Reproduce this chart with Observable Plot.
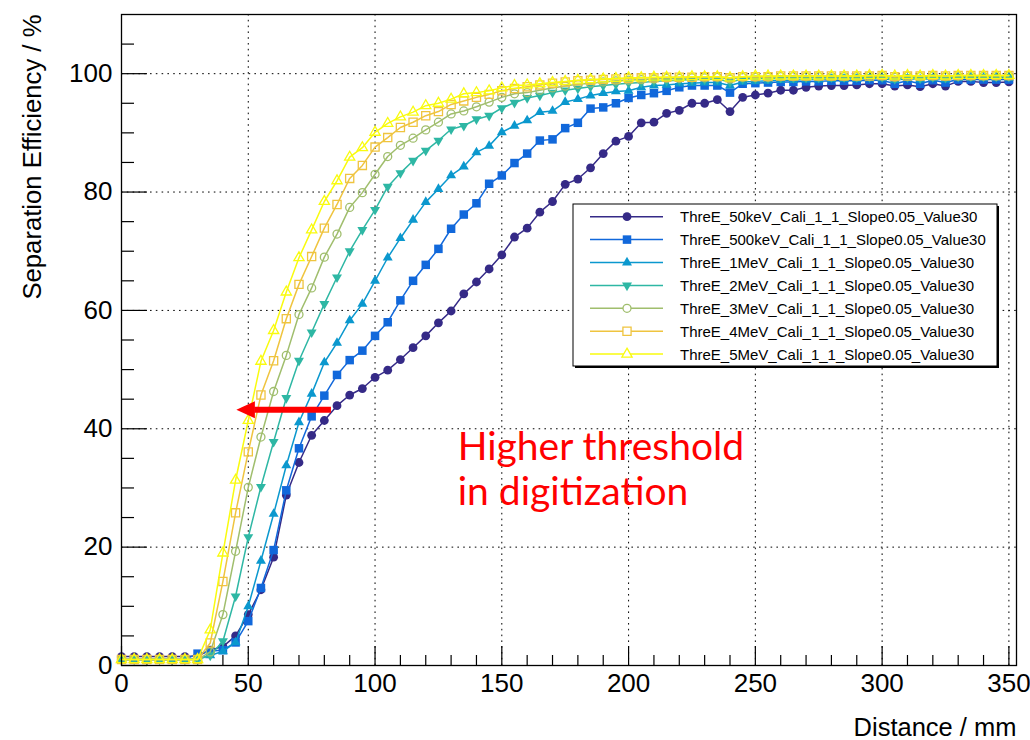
<!DOCTYPE html>
<html>
<head>
<meta charset="utf-8">
<script src="https://cdn.jsdelivr.net/npm/d3@7"></script>
<script src="https://cdn.jsdelivr.net/npm/@observablehq/plot@0.6"></script>
<style>
  body { margin: 0; background: #fff; }
  #chart { position: relative; width: 1030px; height: 740px; }
</style>
</head>
<body>
<div id="chart"></div>
<script>
// ---------------- data ----------------
const distance = [0,5,10,15,20,25,30,35,40,45,50,55,60,65,70,75,80,85,90,95,100,105,110,115,120,125,130,135,140,145,150,155,160,165,170,175,180,185,190,195,200,205,210,215,220,225,230,235,240,245,250,255,260,265,270,275,280,285,290,295,300,305,310,315,320,325,330,335,340,345,350];

const seriesNames = [
  "ThreE_50keV_Cali_1_1_Slope0.05_Value30",
  "ThreE_500keV_Cali_1_1_Slope0.05_Value30",
  "ThreE_1MeV_Cali_1_1_Slope0.05_Value30",
  "ThreE_2MeV_Cali_1_1_Slope0.05_Value30",
  "ThreE_3MeV_Cali_1_1_Slope0.05_Value30",
  "ThreE_4MeV_Cali_1_1_Slope0.05_Value30",
  "ThreE_5MeV_Cali_1_1_Slope0.05_Value30"
];

const eff50keV = [1.5,1.5,1.5,1.5,1.5,1.5,1.6,2.6,3.2,5.0, 8.6,12.8,18.3,28.8,34.3,38.9,41.4,43.9,45.7,46.8, 48.7,49.9,51.7,53.7,55.7,57.9,59.9,62.8,64.8,67.0, 69.4,72.4,73.9,76.6,78.4,81.3,82.2,84.1,86.5,88.6, 89.4,91.7,91.8,93.3,93.8,95.0,95.0,95.6,93.6,96.0, 96.4,96.7,97.2,97.2,97.7,97.9,98.0,98.0,98.1,98.3, 98.3,97.9,98.1,97.8,98.3,97.9,98.7,98.7,98.5,98.5, 98.6];
const eff500keV = [1.0,1.0,1.0,1.0,1.0,1.0,2.0,2.4,2.6,3.9, 7.5,13.1,19.5,29.6,36.7,42.1,45.6,49.1,51.6,53.2, 55.7,58.0,61.7,65.0,67.7,70.4,73.8,76.2,78.1,81.4, 82.8,84.9,86.5,88.7,88.9,90.8,91.7,94.1,94.3,95.0, 95.9,96.4,96.7,97.1,97.7,98.0,98.0,98.0,96.8,98.3, 98.4,98.5,98.6,98.6,98.7,98.7,98.8,98.8,98.8,98.9, 98.9,98.3,98.8,98.3,98.9,98.5,99.0,99.0,99.0,99.0, 99.0];
const eff1MeV = [1.0,1.0,1.0,1.0,1.0,1.0,1.2,1.7,2.4,3.9, 10.0,17.7,25.6,33.8,41.1,45.9,51.2,54.5,58.3,61.1, 65.0,68.9,72.2,75.3,78.3,80.5,82.8,84.3,86.7,87.8, 90.1,91.2,92.1,93.5,93.7,95.2,95.7,96.3,96.7,97.0, 97.1,97.7,98.0,98.1,98.3,98.4,98.5,98.5,98.0,98.6, 98.7,98.8,98.9,98.9,99.0,99.0,99.1,99.1,99.1,99.2, 99.2,98.9,99.2,99.0,99.2,99.0,99.3,99.3,99.3,99.3, 99.3];
const eff2MeV = [1.0,1.0,1.0,1.0,1.0,1.0,1.0,1.7,4.1,11.7, 21.7,30.2,37.8,45.2,51.5,56.3,61.1,65.6,70.0,73.6, 77.0,80.9,83.2,85.3,87.0,88.7,90.6,91.2,92.3,92.9, 94.2,95.1,95.9,96.3,96.8,97.2,97.5,97.8,98.0,98.2, 98.4,98.5,98.7,98.8,98.9,99.0,99.0,99.1,98.6,99.1, 99.2,99.2,99.3,99.3,99.3,99.3,99.4,99.4,99.4,99.4, 99.4,99.1,99.4,99.2,99.4,99.3,99.5,99.5,99.5,99.5, 99.5];
const eff3MeV = [1.0,1.0,1.0,1.0,1.0,1.0,1.0,2.3,8.6,19.3, 30.1,38.6,46.3,52.4,59.3,63.8,69.0,72.9,77.4,79.9, 83.0,86.0,87.9,89.1,90.5,91.8,93.2,93.7,94.4,95.2, 96.0,96.6,96.8,97.2,97.6,97.9,98.2,98.4,98.6,98.8, 98.9,99.0,99.1,99.2,99.2,99.3,99.3,99.4,99.1,99.4, 99.4,99.4,99.5,99.5,99.5,99.5,99.5,99.5,99.5,99.6, 99.6,99.4,99.6,99.5,99.6,99.5,99.6,99.6,99.6,99.6, 99.6];
const eff4MeV = [1.0,1.0,1.0,1.0,1.0,1.0,1.0,3.8,14.2,25.8, 36.1,45.7,51.5,58.6,64.4,69.1,73.9,77.9,82.3,84.5, 87.6,89.2,90.9,91.8,92.9,93.6,94.8,95.4,96.0,96.5, 97.1,97.5,97.8,98.1,98.4,98.6,98.8,98.9,99.0,99.1, 99.2,99.3,99.3,99.4,99.4,99.4,99.5,99.5,99.3,99.5, 99.5,99.5,99.6,99.6,99.6,99.6,99.6,99.6,99.6,99.6, 99.7,99.5,99.6,99.6,99.7,99.6,99.7,99.7,99.7,99.7, 99.7];
const eff5MeV = [1.0,1.0,1.0,1.0,1.0,1.0,1.0,6.0,19.0,31.3, 41.4,51.4,56.6,63.1,68.9,73.6,78.4,81.9,85.9,87.5, 90.1,91.6,92.7,93.5,94.6,95.0,95.7,96.6,96.8,97.1, 97.6,98.0,98.1,98.3,98.5,98.7,98.9,99.0,99.1,99.2, 99.3,99.3,99.4,99.4,99.4,99.5,99.5,99.5,99.3,99.5, 99.6,99.6,99.6,99.6,99.6,99.6,99.6,99.6,99.6,99.7, 99.7,99.6,99.7,99.6,99.7,99.6,99.7,99.7,99.7,99.7, 99.7];

const seriesValues = [eff50keV, eff500keV, eff1MeV, eff2MeV, eff3MeV, eff4MeV, eff5MeV];

const xMajorTicks = [0,50,100,150,200,250,300,350];
const xMinorTicks = [10,20,30,40,60,70,80,90,110,120,130,140,160,170,180,190,210,220,230,240,260,270,280,290,310,320,330,340];
const yMajorTicks = [0,20,40,60,80,100];
const yMinorTicks = [5,10,15,25,30,35,45,50,55,65,70,75,85,90,95,105];

const xTitle = "Distance / mm";
const yTitle = "Separation Efficiency / %";

// annotation (arrow + note)
const arrowTailX = [82.6];
const arrowHeadBaseX = [52.4];
const arrowTipX = [45.3];
const arrowY = [43.2];
const noteText = ["Higher threshold\nin digitization"];
const noteX = [132.6];
const noteY = [40.1];

// ---------------- style ----------------
const seriesColors = ["#352a87", "#1168db", "#0b98ce", "#2eb7a4", "#a0be6d", "#efc43f", "#f9fb0e"];

const triangleDown = {
  draw(ctx, size) {
    const y = -Math.sqrt(size / (Math.sqrt(3) * 3));
    const s3 = Math.sqrt(3);
    ctx.moveTo(0, -y * 2);
    ctx.lineTo(-s3 * y, y);
    ctx.lineTo(s3 * y, y);
    ctx.closePath();
  }
};
const arrowHead = {
  draw(ctx, size) {
    ctx.moveTo(0, 0);
    ctx.lineTo(18.5, -8.5);
    ctx.lineTo(18.5, 8.5);
    ctx.closePath();
  }
};
const markerStyles = [
  {symbol: "circle", r: 4.4, filled: true},
  {symbol: "square", r: 4.8, filled: true},
  {symbol: "triangle", r: 3.7, filled: true},
  {symbol: triangleDown, r: 3.7, filled: true},
  {symbol: "circle", r: 4.0, filled: false},
  {symbol: "square", r: 4.6, filled: false},
  {symbol: "triangle", r: 3.8, filled: false}
];

const W = 1030, H = 740;
const mL = 121, mR = 14, mT = 14, mB = 75;
const frameW = W - mL - mR, frameH = H - mT - mB;

const gridStyle = {stroke: "#000", strokeOpacity: 1, strokeWidth: 1, strokeDasharray: "1.6,4.2"};

const seriesMarks = seriesValues.flatMap((vals, s) => {
  const data = distance.map((d, i) => ({d, v: vals[i]}));
  const m = markerStyles[s];
  const c = seriesColors[s];
  return [
    Plot.line(data, {x: "d", y: "v", stroke: c, strokeWidth: 1.5}),
    Plot.dot(data, {
      x: "d", y: "v", symbol: m.symbol, r: m.r,
      fill: m.filled ? c : "none",
      stroke: m.filled ? "none" : c,
      strokeWidth: m.filled ? 0 : 1.3
    })
  ];
});

const chart = Plot.plot({
  width: W, height: H,
  marginLeft: mL, marginRight: mR, marginTop: mT, marginBottom: mB,
  style: {fontFamily: "'Liberation Sans', Arial, sans-serif", background: "#fff", overflow: "visible"},
  x: {domain: [0, 353]},
  y: {domain: [0, 110]},
  marks: [
    Plot.gridX(xMajorTicks.filter(d => d > 0), gridStyle),
    Plot.gridY(yMajorTicks.filter(d => d > 0), gridStyle),
    Plot.tickX(xMajorTicks, {x: d => d, stroke: "#000", strokeWidth: 1.2, insetTop: frameH - 19}),
    Plot.tickX(xMinorTicks, {x: d => d, stroke: "#000", strokeWidth: 1.2, insetTop: frameH - 10}),
    Plot.tickY(yMajorTicks, {y: d => d, stroke: "#000", strokeWidth: 1.2, insetRight: frameW - 26}),
    Plot.tickY(yMinorTicks, {y: d => d, stroke: "#000", strokeWidth: 1.2, insetRight: frameW - 13}),
    Plot.axisX(xMajorTicks, {tickSize: 0, tickPadding: 8, fontSize: 26, label: null, fill: "#000"}),
    Plot.axisY(yMajorTicks, {tickSize: 0, tickPadding: 9, fontSize: 26, label: null, fill: "#000"}),
    Plot.text([xTitle], {text: d => d, frameAnchor: "bottom-right", textAnchor: "end", lineAnchor: "bottom", dy: 70, fontSize: 25.5, fill: "#000"}),
    Plot.text([yTitle], {text: d => d, frameAnchor: "top-left", textAnchor: "end", lineAnchor: "middle", rotate: -90, dx: -89, dy: 0, fontSize: 25.7, fill: "#000"}),
    ...seriesMarks,
    Plot.link(arrowY, {x1: (d, i) => arrowTailX[i], x2: (d, i) => arrowHeadBaseX[i], y1: d => d, y2: d => d, stroke: "#ff0000", strokeWidth: 6}),
    Plot.dot(arrowY, {x: (d, i) => arrowTipX[i], y: d => d, symbol: arrowHead, r: 5, fill: "#ff0000", stroke: "none"}),
    Plot.text(noteText, {text: d => d, x: (d, i) => noteX[i], y: (d, i) => noteY[i], textAnchor: "start", lineAnchor: "top", lineHeight: 1.15, fontSize: 39, fontFamily: "Lato, 'Open Sans', sans-serif", fill: "#ff0000"}),
    Plot.frame({stroke: "#000", strokeWidth: 1.3})
  ]
});

// ---------------- legend (inside the frame, ROOT style) ----------------
const svg = d3.select(chart);
const lg = svg.append("g")
  .attr("font-family", "'Liberation Sans', Arial, sans-serif")
  .attr("text-anchor", "start");
const lx = 573, ly = 204, lw = 424, lh = 162;
lg.append("rect").attr("x", lx + 2).attr("y", ly + 2).attr("width", lw).attr("height", lh).attr("fill", "#000");
lg.append("rect").attr("x", lx).attr("y", ly).attr("width", lw).attr("height", lh).attr("fill", "#fff").attr("stroke", "#000").attr("stroke-width", 1);
const rowY0 = 216.7, rowStep = 22.9;
seriesNames.forEach((name, s) => {
  const y = rowY0 + s * rowStep;
  const c = seriesColors[s];
  const m = markerStyles[s];
  lg.append("line").attr("x1", 590).attr("x2", 663).attr("y1", y).attr("y2", y).attr("stroke", c).attr("stroke-width", 1.5);
  const symType = typeof m.symbol === "string"
    ? (m.symbol === "circle" ? d3.symbolCircle : m.symbol === "square" ? d3.symbolSquare : d3.symbolTriangle)
    : m.symbol;
  lg.append("path")
    .attr("d", d3.symbol(symType, Math.PI * m.r * m.r)())
    .attr("transform", `translate(627,${y})`)
    .attr("fill", m.filled ? c : "#fff")
    .attr("stroke", m.filled ? "none" : c)
    .attr("stroke-width", m.filled ? 0 : 1.3);
  lg.append("text").attr("x", 680).attr("y", y).attr("dy", "0.36em")
    .attr("text-anchor", "start")
    .attr("font-size", 15).attr("fill", "#000").text(name);
});

document.getElementById("chart").appendChild(chart);
</script>
</body>
</html>
